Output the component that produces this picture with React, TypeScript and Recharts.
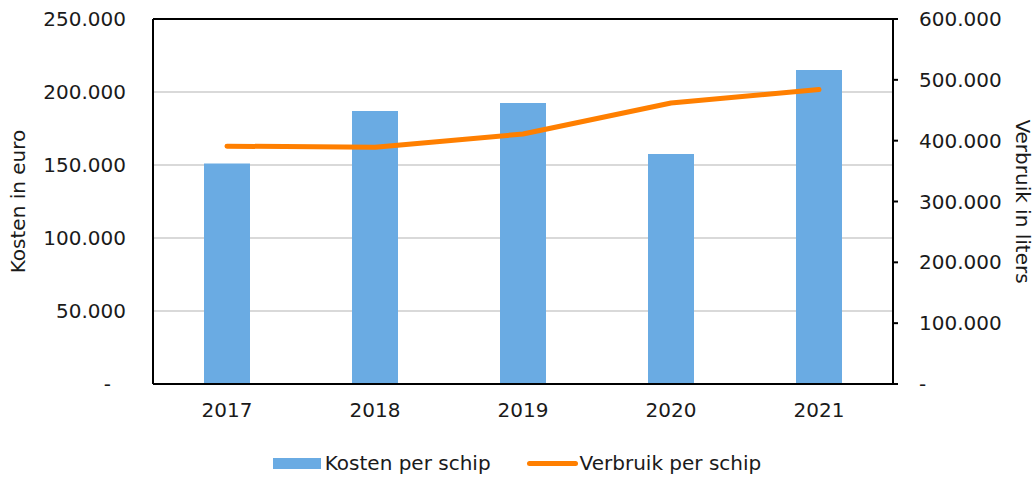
import {
  ComposedChart,
  Bar,
  Line,
  XAxis,
  YAxis,
  CartesianGrid,
  ReferenceLine,
  Legend,
} from 'recharts';

const years = ['2017', '2018', '2019', '2020', '2021'];
const kostenPerSchip = [151000, 187000, 192500, 157500, 215000];
const verbruikPerSchip = [391000, 389000, 411000, 462000, 484000];

const leftTicks = [0, 50000, 100000, 150000, 200000, 250000];
const rightTicks = [0, 100000, 200000, 300000, 400000, 500000, 600000];

const data = years.map((year, i) => ({
  year,
  kosten: kostenPerSchip[i],
  verbruik: verbruikPerSchip[i],
}));

const COLORS = {
  bar: '#6aabe3',
  line: '#ff7f00',
  grid: '#d9d9d9',
  axis: '#000000',
  text: '#1a1a1a',
};

const FONT = '"DejaVu Sans", Verdana, sans-serif';
const FONT_SIZE = 20;

const fmt = (v: number) => String(Math.round(v)).replace(/\B(?=(\d{3})+(?!\d))/g, '.');

function LeftTick(props: any) {
  const { x, y, payload } = props;
  const zero = payload.value === 0;
  return (
    <text
      x={zero ? x - 15 : x}
      y={y}
      dy="0.355em"
      textAnchor="end"
      fill={COLORS.text}
      fontSize={FONT_SIZE}
      fontFamily={FONT}
    >
      {zero ? '-' : fmt(payload.value)}
    </text>
  );
}

function RightTick(props: any) {
  const { x, y, payload } = props;
  const zero = payload.value === 0;
  return (
    <text
      x={x}
      y={y}
      dy="0.355em"
      textAnchor="start"
      fill={COLORS.text}
      fontSize={FONT_SIZE}
      fontFamily={FONT}
    >
      {zero ? '-' : fmt(payload.value)}
    </text>
  );
}

function AxisTitle({ viewBox, value, side }: any) {
  const cx = side === 'left' ? viewBox.x + 18 : viewBox.x + viewBox.width - 11;
  const cy = viewBox.y + viewBox.height / 2;
  return (
    <text
      x={cx}
      y={cy}
      textAnchor="middle"
      dominantBaseline="central"
      transform={`rotate(${side === 'left' ? -90 : 90}, ${cx}, ${cy})`}
      fill={COLORS.text}
      fontSize={FONT_SIZE}
      fontFamily={FONT}
    >
      {value}
    </text>
  );
}

function LegendContent() {
  return (
    <div
      style={{
        display: 'flex',
        justifyContent: 'center',
        alignItems: 'center',
        height: 28,
        fontFamily: FONT,
        fontSize: FONT_SIZE,
        color: COLORS.text,
      }}
    >
      <span style={{ display: 'inline-block', width: 48, height: 11, background: COLORS.bar, marginRight: 4 }} />
      <span style={{ marginRight: 36 }}>Kosten per schip</span>
      <span
        style={{
          display: 'inline-block',
          width: 51,
          height: 5,
          borderRadius: 3,
          background: COLORS.line,
          marginRight: 2,
        }}
      />
      <span>Verbruik per schip</span>
    </div>
  );
}

export default function App() {
  return (
    <div style={{ position: 'absolute', left: 0, top: 0, background: '#fff' }}>
      <ComposedChart
        width={1034}
        height={477}
        data={data}
        margin={{ top: 19, right: 0, left: 0, bottom: 0 }}
      >
        <CartesianGrid yAxisId="left" vertical={false} stroke={COLORS.grid} strokeWidth={2} />
        <XAxis
          dataKey="year"
          axisLine={{ stroke: COLORS.axis, strokeWidth: 2 }}
          tickLine={false}
          tickSize={0}
          tickMargin={19}
          height={65}
          tick={{ fill: COLORS.text, fontSize: FONT_SIZE, fontFamily: FONT }}
        />
        <YAxis
          yAxisId="left"
          width={153}
          domain={[0, 250000]}
          ticks={leftTicks}
          axisLine={{ stroke: COLORS.axis, strokeWidth: 2 }}
          tickLine={false}
          tickSize={0}
          tickMargin={27}
          tick={<LeftTick />}
          label={<AxisTitle value="Kosten in euro" side="left" />}
        />
        <YAxis
          yAxisId="right"
          orientation="right"
          width={141}
          domain={[0, 600000]}
          ticks={rightTicks}
          axisLine={{ stroke: COLORS.axis, strokeWidth: 2 }}
          tickLine={{ stroke: COLORS.axis, strokeWidth: 2 }}
          tickSize={5}
          tickMargin={21}
          tick={<RightTick />}
          label={<AxisTitle value="Verbruik in liters" side="right" />}
        />
        <ReferenceLine yAxisId="left" y={250000} stroke={COLORS.axis} strokeWidth={2} />
        <Bar
          yAxisId="left"
          dataKey="kosten"
          name="Kosten per schip"
          fill={COLORS.bar}
          barSize={46}
          isAnimationActive={false}
        />
        <Line
          yAxisId="right"
          dataKey="verbruik"
          name="Verbruik per schip"
          type="linear"
          stroke={COLORS.line}
          strokeWidth={5}
          strokeLinecap="round"
          strokeLinejoin="round"
          dot={false}
          activeDot={false}
          isAnimationActive={false}
        />
        <Legend verticalAlign="bottom" height={28} content={<LegendContent />} />
      </ComposedChart>
    </div>
  );
}
